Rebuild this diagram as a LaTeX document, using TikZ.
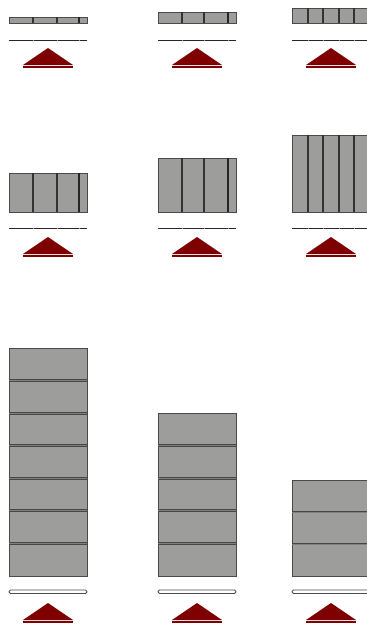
\documentclass[tikz,border=0pt]{standalone}
\definecolor{slab}{HTML}{9D9D9B}
\definecolor{slabedge}{HTML}{4A4A4A}
\definecolor{arrowred}{HTML}{7E0000}
\begin{document}
\begin{tikzpicture}[x=1pt,y=-1pt,
  slabbox/.style={fill=slab, draw=slabedge, line width=0.8pt},
  joint/.style={draw=black!80, line width=1.1pt},
  thickjoint/.style={draw=black!85, line width=2pt},
  hjoint/.style={draw=black!72, line width=1pt, double=black!50, double distance=0.9pt},
  baseline/.style={draw=black!85, line width=1pt},
  gap/.style={draw=black!35, line width=0.6pt},
  whitebar/.style={draw=black!70, fill=white, line width=0.8pt, rounded corners=1.5pt},
  marker/.style={fill=arrowred, draw=none}]
\fill[white] (0,0) rectangle (367,625);
\path[use as bounding box] (0,0) rectangle (367,625);

% ---------- Row 1 ----------
\draw[slabbox] (9,17) rectangle (87,23);
\foreach \x in {33,57} \draw[joint] (\x,17) -- (\x,23);
\draw[thickjoint] (79,17) -- (79,23);
\draw[slabbox] (158,12) rectangle (236,23);
\foreach \x in {182,204} \draw[joint] (\x,12) -- (\x,23);
\draw[thickjoint] (228,12) -- (228,23);
\draw[slabbox] (292,8) rectangle (370,23);
\foreach \x in {308,323,339,354} \draw[joint] (\x,8) -- (\x,23);

\draw[baseline] (9,40) -- (87,40);
\draw[baseline] (158,40) -- (236,40);
\draw[baseline] (292,40) -- (367,40);
\foreach \x in {33,57,79,182,204,228,308,323,339,354} \draw[gap] (\x,39.5) -- (\x,40.5);

% ---------- Row 2 ----------
\draw[slabbox] (9,173) rectangle (87,212);
\foreach \x in {33,57} \draw[joint] (\x,173) -- (\x,212);
\draw[thickjoint] (79,173) -- (79,212);
\draw[slabbox] (158,158) rectangle (236,212);
\foreach \x in {182,204} \draw[joint] (\x,158) -- (\x,212);
\draw[thickjoint] (228,158) -- (228,212);
\draw[slabbox] (292,135) rectangle (370,212);
\foreach \x in {308,323,339,354} \draw[joint] (\x,135) -- (\x,212);

\draw[baseline] (9,228) -- (87,228);
\draw[baseline] (158,228) -- (236,228);
\draw[baseline] (292,228) -- (367,228);
\foreach \x in {33,57,79,182,204,228,308,323,339,354} \draw[gap] (\x,227.5) -- (\x,228.5);

% ---------- Row 3 ----------
\draw[slabbox] (9,348) rectangle (87,576);
\foreach \y in {380.6,413.1,445.7,478.3,510.9,543.4} \draw[hjoint] (9,\y) -- (87,\y);
\draw[slabbox] (158,413) rectangle (236,576);
\foreach \y in {445.6,478.2,510.8,543.4} \draw[hjoint] (158,\y) -- (236,\y);
\draw[slabbox] (292,480) rectangle (370,576);
\foreach \y in {512,544} \draw[hjoint] (292,\y) -- (370,\y);

\draw[whitebar] (9,590) rectangle (87,593.5);
\draw[whitebar] (158,590) rectangle (236,593.5);
\draw[whitebar] (292,590) rectangle (370,593.5);

% ---------- markers ----------
\foreach \c in {48,197,331}
  \foreach \a in {48,237,603} {
    \fill[marker] (\c,\a) -- (\c+25,\a+17) -- (\c-25,\a+17) -- cycle;
    \fill[marker] (\c-25,\a+18.4) rectangle (\c+25,\a+20.2);
  }
\end{tikzpicture}
\end{document}
